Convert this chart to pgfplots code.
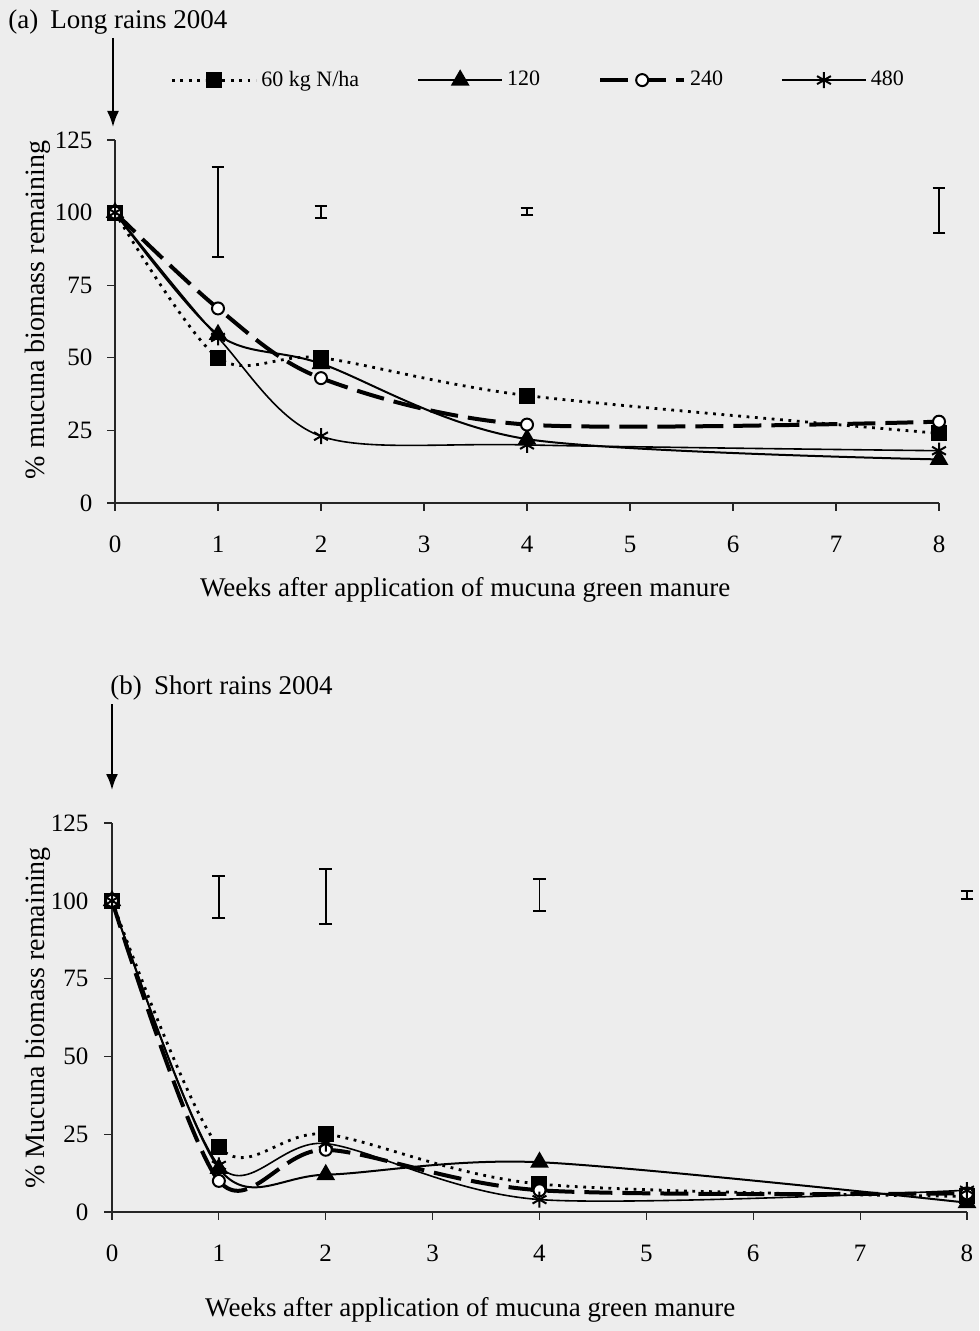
\documentclass[border=0pt]{standalone}
\usepackage{pgfplots}
\pgfplotsset{compat=1.18}
\usepackage{pgfplotstable}
\usepackage{fontspec}
\setmainfont{Liberation Serif}
\usetikzlibrary{arrows.meta}
\definecolor{bgpaper}{RGB}{237,237,237}

\pgfplotstableread{
x y60 y120 y240 y480
0 100 100 100 100
1 50 58 67 57
2 50 48 43 23
4 37 22 27 20
8 24 15 28 18
}\dataA
\pgfplotstableread{
x y60 y120 y240 y480
0 100 100 100 100
1 21 14 10 15
2 25 12 20 22
4 9 16 7 4
8 5 3 6 7
}\dataB

\pgfplotsset{
  panel/.style={
    scale only axis, xmin=0, xmax=8, ymin=0, ymax=125,
    xtick={0,...,8}, ytick={0,25,...,125},
    axis lines*=left, axis line style={-, black!85, line width=0.6pt},
    tick align=outside, major tick length=3.8pt,
    tick style={black!85, line width=0.6pt},
    /pgf/number format/assume math mode=true,
    ticklabel style={font=\fontsize{12.5}{14}\selectfont},
    xticklabel style={yshift=-9pt},
    label style={font=\fontsize{13.5}{16}\selectfont},
    clip=false,
  },
  s60/.style={black, line width=1.4pt, dash pattern=on 1.4pt off 2.8pt, smooth, mark=square*, mark size=3.3pt, mark options={solid, fill=black}},
  s120/.style={black, line width=1pt, smooth, mark=triangle*, mark size=4.4pt, mark options={solid, fill=black}},
  s240/.style={black, line width=2pt, dash pattern=on 14pt off 5pt, smooth, mark=*, mark size=3pt, mark options={solid, fill=white, draw=black, line width=1pt}},
  s480/.style={black, line width=0.8pt, smooth, mark=asterisk, mark size=4pt, mark options={solid, line width=1pt}},
  lsd/.style={draw=none, mark=none, forget plot, error bars/.cd, y dir=both, y explicit, error bar style={draw=black, solid, line width=0.9pt}, error mark options={rotate=90, mark size=3.2pt, line width=0.9pt, draw=black, solid}},
}

\begin{document}
\begin{tikzpicture}
\path[fill=bgpaper, use as bounding box] (0pt,0pt) rectangle (489.5pt,-665.5pt);

% panel (a)
\begin{axis}[panel,
  at={(57.5pt,-251.5pt)}, anchor=south west,
  width=412pt, height=181.5pt,
  yticklabel style={xshift=-4pt},
  xlabel={Weeks after application of mucuna green manure},
  ylabel={\% mucuna biomass remaining},
  x label style={at={(axis description cs:0.425,-0.24)}, anchor=center},
  y label style={at={(axis description cs:-0.0934,0.532)}, anchor=center, font=\fontsize{14}{16}\selectfont},
  legend style={at={(axis description cs:0.067,1.165)}, anchor=west, draw=none, fill=none,
    font=\fontsize{11}{13}\selectfont, inner sep=0pt,
    /tikz/every even column/.append style={column sep=27pt}},
  legend columns=4,
  legend image code/.code={\draw[mark repeat=2, mark phase=2, #1] plot coordinates {(0pt,0pt) (21pt,0pt) (42pt,0pt)};},
]
\addplot[s60] table[x=x, y=y60] {\dataA};
\addlegendentry{60 kg N/ha}
\addplot[s120] table[x=x, y=y120] {\dataA};
\addlegendentry{120}
\addplot[s240] table[x=x, y=y240] {\dataA};
\addlegendentry{240}
\addplot[s480] table[x=x, y=y480] {\dataA};
\addlegendentry{480}
\addplot[lsd] coordinates {(1,100.2) +- (0,15.5) (2,100.2) +- (0,2.1) (4,100.4) +- (0,1.2) (8,100.7) +- (0,7.7)};
\end{axis}

% panel (b)
\begin{axis}[panel,
  at={(56pt,-606pt)}, anchor=south west,
  width=427.5pt, height=194.5pt,
  yticklabel style={xshift=-4.5pt},
  xlabel={Weeks after application of mucuna green manure},
  ylabel={\% Mucuna biomass remaining},
  x label style={at={(axis description cs:0.419,-0.252)}, anchor=center},
  y label style={at={(axis description cs:-0.0866,0.499)}, anchor=center, font=\fontsize{14}{16}\selectfont},
]
\addplot[s60] table[x=x, y=y60] {\dataB};
\addplot[s120] table[x=x, y=y120] {\dataB};
\addplot[s240] table[x=x, y=y240] {\dataB};
\addplot[s480] table[x=x, y=y480] {\dataB};
\addplot[lsd] coordinates {(1,101.3) +- (0,6.7) (2,101.4) +- (0,8.8) (4,101.9) +- (0,5.1) (8,101.9) +- (0,1.3)};
\end{axis}

% titles and arrows
\node[anchor=west, font=\fontsize{13.5}{16}\selectfont, inner sep=0pt] at (4pt,-11pt) {(a)\hspace{0.45em}Long rains 2004};
\node[anchor=west, font=\fontsize{13.5}{16}\selectfont, inner sep=0pt] at (55pt,-344pt) {(b)\hspace{0.45em}Short rains 2004};
\draw[line width=1pt, -{Latex[length=8pt, width=6pt]}] (56.5pt,-19pt) -- (56.5pt,-63.5pt);
\draw[line width=1pt, -{Latex[length=8pt, width=6pt]}] (56pt,-352pt) -- (56pt,-395pt);
\end{tikzpicture}
\end{document}
